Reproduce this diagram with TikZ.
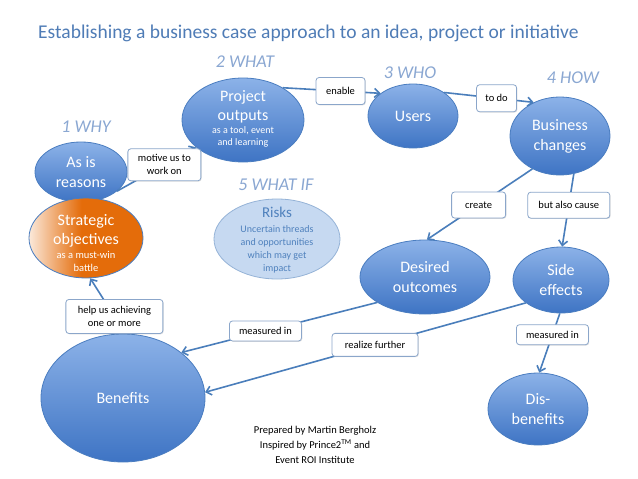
\documentclass[tikz,border=0pt]{standalone}
\usepackage{fontspec}
\setmainfont{Carlito}
\usetikzlibrary{shapes.geometric,arrows.meta,shadows}
\definecolor{titleC}{HTML}{4F7CB6}
\definecolor{headC}{HTML}{8AA7D2}
\definecolor{ellTop}{HTML}{8CB2E8}
\definecolor{ellBot}{HTML}{3E74C4}
\definecolor{ellBd}{HTML}{4A7DC0}
\definecolor{lineC}{HTML}{4A7EBB}
\definecolor{boxBd}{HTML}{8BA6CA}
\definecolor{orgC}{HTML}{E46C0A}
\definecolor{riskF}{HTML}{C6D9F1}
\definecolor{riskB}{HTML}{95B3D7}
\definecolor{riskT}{HTML}{4F81BD}
\colorlet{orgA}{white!85!orgC}
\colorlet{orgB}{white!40!orgC}
\pgfdeclarehorizontalshading{orangefade}{100bp}{color(0bp)=(orgA); color(25bp)=(orgA); color(37bp)=(orgB); color(48bp)=(orgC); color(100bp)=(orgC)}
\begin{document}
\begin{tikzpicture}[x=1pt,y=-1pt,
  ell/.style={ellipse, draw=ellBd, line width=0.8pt, top color=ellTop, bottom color=ellBot, inner sep=0pt},
  etext/.style={text=white, align=center, inner sep=0pt, font=\fontsize{16}{20}\selectfont},
  lbl/.style={draw=boxBd, fill=white, rounded corners=3pt, line width=0.8pt, align=center, inner sep=1pt,
    font=\fontsize{10.5}{13}\selectfont, drop shadow={opacity=0.25, shadow xshift=0.8pt, shadow yshift=-0.8pt}},
  head/.style={text=headC, font=\fontsize{18}{21}\selectfont\itshape},
  arr/.style={draw=lineC, line width=1.6pt, -{Straight Barb[length=5pt,width=9pt]}}]
\useasboundingbox (0,0) rectangle (638,479);
\fill[white] (0,0) rectangle (638,479);

% title and headings
\node[anchor=base west, text=titleC, inner sep=0pt, font=\fontsize{19.5}{23}\selectfont] (title) at (38,38) {Establishing a business case approach to an idea, project or initiative};
\node[head] (h2) at (245,62) {2 WHAT};
\node[head] (h3) at (410,73) {3 WHO};
\node[head] (h4) at (573,78) {4 HOW};
\node[head] (h1) at (86,127) {1 WHY};
\node[head] (h5) at (276,185) {5 WHAT IF};

% ellipses
\node[ell, minimum width=122pt, minimum height=84pt] (po) at (243,120) {};
\node[etext] (pot) at (243,119) {Project\\[-1pt]outputs\\[-7pt]{\fontsize{10}{12}\selectfont as a tool, event}\\[-8pt]{\fontsize{10}{12}\selectfont and learning}};
\node[ell, minimum width=90pt, minimum height=64pt] (us) at (413,116) {};
\node[etext] (ust) at (us) {Users};
\node[ell, minimum width=100pt, minimum height=78pt] (bc) at (560,136) {};
\node[etext] (bct) at (bc) {Business\\changes};
\node[ell, minimum width=92pt, minimum height=60pt] (asis) at (81,172) {};
\node[etext] (asist) at (asis) {As is\\reasons};
\node[ellipse, draw=ellBd, line width=0.8pt, shading=orangefade, inner sep=0pt, minimum width=114pt, minimum height=80pt] (so) at (86,238) {};
\node[etext] (sot) at (86,243) {Strategic\\[-1pt]objectives\\[-6pt]{\fontsize{10.5}{12}\selectfont as a must-win}\\[-7pt]{\fontsize{10.5}{12}\selectfont battle}};
\node[ellipse, draw=riskB, line width=0.8pt, fill=riskF, inner sep=0pt, minimum width=126pt, minimum height=80pt] (risk) at (277,239) {};
\node[text=riskT, align=center, inner sep=0pt, font=\fontsize{10}{13}\selectfont] (riskt) at (277,240) {{\fontsize{15}{18}\selectfont Risks}\\[2pt]Uncertain threads\\and opportunities\\which may get\\impact};
\node[ell, minimum width=130pt, minimum height=74pt] (do) at (425,277) {};
\node[etext] (dot) at (do) {Desired\\outcomes};
\node[ell, minimum width=96pt, minimum height=66pt] (se) at (561,280) {};
\node[etext] (set) at (se) {Side\\effects};
\node[ell, minimum width=164pt, minimum height=128pt] (ben) at (123,398) {};
\node[etext] (bent) at (ben) {Benefits};
\node[ell, minimum width=100pt, minimum height=72pt] (dis) at (538,409) {};
\node[etext] (dist) at (dis) {Dis-\\benefits};

% connectors
\draw[arr] (asis.-28) -- node[lbl, pos=0.6, minimum width=73pt, minimum height=32pt] (l1) {motive us to\\work on} (po.210);
\draw[arr] (po.39) -- node[lbl, pos=0.59, minimum width=49pt, minimum height=27pt] (l2) {enable} (us.145);
\draw[arr] (us.37) -- node[lbl, pos=0.585, minimum width=40pt, minimum height=27pt] (l3) {to do} (bc.128);
\draw[arr] (bc.230) -- node[lbl, pos=0.51, minimum width=54pt, minimum height=26pt] (l4) {create} (do.87);
\draw[arr] (bc.-70) -- node[lbl, pos=0.43, minimum width=82pt, minimum height=26pt] (l5) {but also cause} (se.88);
\draw[arr] (do.208) -- node[lbl, pos=0.57, minimum width=72pt, minimum height=20pt] (l6) {measured in} (ben.38);
\draw[arr] (se.213) -- node[lbl, pos=0.47, minimum width=86pt, minimum height=23pt] (l7) {realize further} (ben.4);
\draw[arr] (se.-92) -- node[lbl, pos=0.36, minimum width=72pt, minimum height=20pt] (l8) {measured in} (dis.88);
\draw[arr] (ben.88) -- node[lbl, pos=0.31, minimum width=97pt, minimum height=34pt] (l9) {help us achieving\\one or more} (so.-84);

% footer
\node[align=center, inner sep=0pt, font=\fontsize{10.5}{15}\selectfont] (foot) at (315,445) {Prepared by Martin Bergholz\\Inspired by Prince2\textsuperscript{TM} and\\Event ROI Institute};
\end{tikzpicture}
\end{document}
